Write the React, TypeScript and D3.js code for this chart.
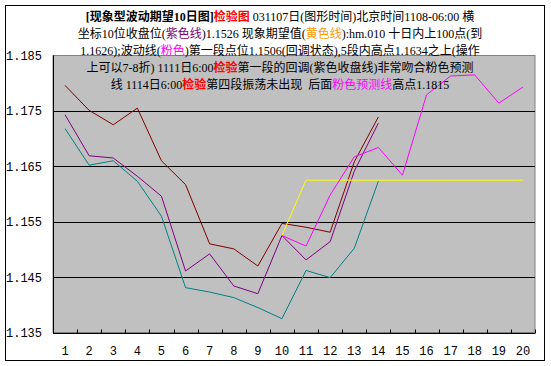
import React from 'react';
import * as d3 from 'd3';

const categories = ['1', '2', '3', '4', '5', '6', '7', '8', '9', '10', '11', '12', '13', '14', '15', '16', '17', '18', '19', '20'];
const yTicks = [1.135, 1.145, 1.155, 1.165, 1.175, 1.185];

// dark red
const redLine = [1.1796, 1.1751, 1.1725, 1.1755, 1.1660, 1.1617, 1.1510, 1.1501, 1.1470, 1.1547, 1.1540, 1.1531, 1.1658, 1.1739, null, null, null, null, null, null];
// purple close line
const purpleLine = [1.1743, 1.1669, 1.1665, 1.1632, 1.1596, 1.1461, 1.1492, 1.1434, 1.1420, 1.1525, 1.1481, 1.1514, 1.1641, 1.1728, null, null, null, null, null, null];
// teal
const tealLine = [1.1718, 1.1652, 1.1660, 1.1623, 1.1560, 1.1431, 1.1423, 1.1413, 1.1395, 1.1375, 1.1462, 1.1449, 1.1502, 1.1623, null, null, null, null, null, null];
// yellow expectation
const yellowLine = [null, null, null, null, null, null, null, null, null, 1.1525, 1.1625, 1.1625, 1.1625, 1.1625, 1.1625, 1.1625, 1.1625, 1.1625, 1.1625, 1.1625];
// pink forecast
const pinkLine = [null, null, null, null, null, null, null, null, null, 1.1525, 1.1506, 1.1598, 1.1667, 1.1684, 1.1634, 1.1779, 1.1813, 1.1815, 1.1764, 1.1793];

const series = [
  { values: redLine, color: '#800000' },
  { values: purpleLine, color: '#800080' },
  { values: tealLine, color: '#008080' },
  { values: yellowLine, color: '#FFFF00' },
  { values: pinkLine, color: '#FF00FF' },
];

const left = 53, right = 535, top = 55.5, bottom = 332.5;
const txtFont = '"Liberation Serif", "Noto Sans CJK SC", serif';
const monoFont = '"Liberation Mono", "DejaVu Sans Mono", monospace';

export default function App() {
  const x = d3.scaleBand<string>().domain(categories).range([left, right]).paddingInner(0).paddingOuter(0);
  const y = d3.scaleLinear().domain([1.135, 1.185]).range([bottom, top]);
  const cx = (i: number) => (x(categories[i]) as number) + x.bandwidth() / 2;
  const line = d3.line<number | null>()
    .defined(d => d !== null)
    .x((d, i) => cx(i))
    .y(d => y(d as number));
  const crisp = (v: number) => Math.round(v) + 0.5;

  const red = { fill: '#FF0000', fontWeight: 'bold' as const };

  return (
    <svg width={551} height={366} style={{ position: 'absolute', left: 0, top: 0, background: '#fff' }}>
      <rect x={5.5} y={5.5} width={539} height={355} fill="#fff" stroke="#000" />
      <rect x={left} y={top} width={right - left} height={bottom - top} fill="#C0C0C0" stroke="#808080" />
      {yTicks.slice(1, -1).map(t => (
        <line key={t} x1={left} x2={right} y1={crisp(y(t))} y2={crisp(y(t))} stroke="#000" />
      ))}
      <line x1={crisp(left)} x2={crisp(left)} y1={top} y2={crisp(bottom)} stroke="#000" />
      <line x1={left} x2={right} y1={crisp(bottom)} y2={crisp(bottom)} stroke="#000" />
      {categories.map((c) => {
        const xx = crisp((x(c) as number) + x.bandwidth());
        return <line key={c} x1={xx} x2={xx} y1={crisp(bottom)} y2={crisp(bottom) - 4} stroke="#000" />;
      })}
      {yTicks.map(t => (
        <text key={t} x={42} y={y(t) + 4.5} textAnchor="end" fontFamily={monoFont} fontSize={12} fill="#000">
          {t.toFixed(3)}
        </text>
      ))}
      {categories.map((c, i) => (
        <text key={c} x={cx(i)} y={355} textAnchor="middle" fontFamily={monoFont} fontSize={12} fill="#000">{c}</text>
      ))}
      {series.map((s, k) => (
        <path key={k} d={line(s.values) || ''} fill="none" stroke={s.color} strokeWidth={1} />
      ))}
      <g fontFamily={txtFont} fontSize={12} fill="#000" textAnchor="middle">
        <text x={280} y={21}>
          <tspan fontWeight="bold">[现象型波动期望10日图]</tspan>
          <tspan {...red}>检验图</tspan>
          <tspan>{'\u00a0031107日(图形时间)北京时间1108-06:00 横'}</tspan>
        </text>
        <text x={280} y={38}>
          <tspan>坐标10位收盘位(</tspan>
          <tspan fill="#800080">紫色线</tspan>
          <tspan>{')1.1526 现象期望值('}</tspan>
          <tspan fill="#FF9900">黄色线</tspan>
          <tspan>):hm.010 十日内上100点(到</tspan>
        </text>
        <text x={280} y={55}>
          <tspan>1.1626);波动线(</tspan>
          <tspan fill="#FF00FF">粉色</tspan>
          <tspan>)第一段点位1.1506(回调状态),5段内高点1.1634之上(操作</tspan>
        </text>
        <text x={280} y={72}>
          <tspan>上可以7-8折) 1111日6:00</tspan>
          <tspan {...red}>检验</tspan>
          <tspan>第一段的回调(紫色收盘线)非常吻合粉色预测</tspan>
        </text>
        <text x={280} y={89}>
          <tspan>线 1114日6:00</tspan>
          <tspan {...red}>检验</tspan>
          <tspan>{'第四段振荡未出现\u00a0\u00a0后面'}</tspan>
          <tspan fill="#FF00FF">粉色预测线</tspan>
          <tspan>高点1.1815</tspan>
        </text>
      </g>
    </svg>
  );
}
